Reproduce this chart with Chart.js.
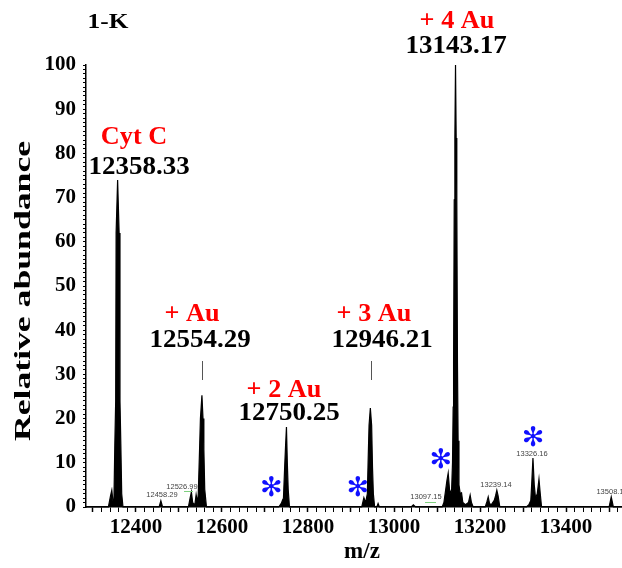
<!DOCTYPE html>
<html>
<head>
<meta charset="utf-8">
<script src="https://cdn.jsdelivr.net/npm/chart.js@4.4.1/dist/chart.umd.min.js"></script>
<style>
  html, body { margin: 0; padding: 0; background: #fff; }
  #wrap { width: 622px; height: 568px; }
</style>
</head>
<body>
<div id="wrap"><canvas id="spectrum" width="622" height="568"></canvas></div>
<script>
// m/z and relative abundance
const mzValues = [
  12284, 12336, 12341, 12344, 12347, 12349, 12351, 12353, 12354, 12357.5, 12361, 12363, 12365, 12367, 12370,
  12454, 12458, 12462,
  12522, 12526, 12529, 12532, 12537, 12540, 12543, 12545, 12548, 12550, 12553.5, 12556, 12558, 12560, 12564,
  12732, 12738, 12741, 12743, 12746, 12748, 12750, 12752, 12754, 12757,
  12925, 12930, 12934, 12938, 12940, 12942, 12945, 12948, 12950, 12952, 12955, 12960, 12963, 12966,
  13040, 13045, 13050,
  13112, 13116, 13120, 13123, 13126, 13129, 13132, 13134, 13136, 13137.5, 13138.5, 13140, 13141.5, 13143, 13144.5,
  13146, 13147.5, 13149, 13151, 13154, 13157, 13160, 13166, 13173, 13177, 13180, 13184,
  13212, 13216, 13219, 13222, 13226, 13233, 13236, 13239, 13242, 13246,
  13308, 13314, 13318, 13320, 13323, 13326, 13329, 13333, 13337, 13340, 13343,
  13500, 13505, 13510, 13530
];
const abundance = [
  0, 0, 2.5, 3.8, 1.0, 2.0, 14, 24, 62, 74, 62, 24, 14, 3, 0,
  0, 1.4, 0,
  0, 2, 3.4, 1, 0.5, 2.8, 1, 3, 13, 20, 25.3, 20, 13, 4, 0,
  0, 0.8, 1.6, 2, 9.5, 14, 18.1, 10, 4, 0,
  0, 2.1, 1, 3, 11, 18.5, 22.4, 18.5, 9, 3, 0, 0, 0.8, 0,
  0, 0.5, 0,
  0, 1, 3.8, 6, 7.7, 4, 3, 4, 10, 22.6, 32.6, 69.5, 83.5, 100, 83.5,
  69.5, 32.6, 15, 5, 3, 3.2, 1, 0.5, 1, 2.7, 1, 0,
  0, 1.2, 2.3, 0.8, 0.5, 1.5, 2.5, 3.8, 2.5, 0,
  0, 0.6, 1.5, 5, 11.1, 5, 2, 3, 6.3, 3, 0,
  0, 2.3, 0, 0
];

const xTickLabels = [12400, 12600, 12800, 13000, 13200, 13400];
const yTickLabels = [0, 10, 20, 30, 40, 50, 60, 70, 80, 90, 100];

// labelled peaks: red adduct name + black m/z
const peakNames = ["Cyt C", "+ Au", "+ 2 Au", "+ 3 Au", "+ 4 Au"];
const peakMasses = ["12358.33", "12554.29", "12750.25", "12946.21", "13143.17"];

// small instrument labels
const minorLabels = ["12458.29", "12526.99", "13097.15", "13239.14", "13326.16", "13508.1"];

// blue asterisks (m/z, abundance)
const starMz = [12715, 12916, 13109, 13323];
const starAbundance = [4.0, 4.0, 10.3, 15.5];

const serif = "'Liberation Serif', 'Times New Roman', serif";

// text drawn with a horizontal stretch, like the original figure
function stretchText(ctx, txt, x, y, font, color, sx) {
  ctx.save();
  ctx.font = font;
  ctx.fillStyle = color;
  ctx.textAlign = "center";
  ctx.textBaseline = "middle";
  ctx.translate(x, y);
  ctx.scale(sx, 1);
  ctx.fillText(txt, 0, 0);
  ctx.restore();
}

const annotationPlugin = {
  id: "annotations",
  afterDraw: (chart) => {
    const { ctx, scales } = chart;
    const big = "bold 25px " + serif;

    // title
    stretchText(ctx, "1-K", 108, 22, "bold 22px " + serif, "#000", 1.15);

    // y title, rotated and stretched
    ctx.save();
    ctx.translate(24, 291);
    ctx.rotate(-Math.PI / 2);
    ctx.scale(1.55, 1);
    ctx.font = "bold 23px " + serif;
    ctx.fillStyle = "#000";
    ctx.textAlign = "center";
    ctx.textBaseline = "middle";
    ctx.fillText("Relative abundance", 0, 0);
    ctx.restore();

    // x title
    stretchText(ctx, "m/z", 362, 552, "bold 23px " + serif, "#000", 1);

    // peak labels
    const namePos = [[134, 138], [192, 315], [284, 391], [374, 315], [457, 22]];
    const massPos = [[139, 168], [200, 341], [289, 414], [382, 341], [456, 47]];
    peakNames.forEach((name, i) => {
      stretchText(ctx, name, namePos[i][0], namePos[i][1], big, "#ff0000", 1.05);
      stretchText(ctx, peakMasses[i], massPos[i][0], massPos[i][1], big, "#000", 1.08);
    });

    // short leader lines above + Au and + 3 Au
    ctx.save();
    ctx.strokeStyle = "#555";
    ctx.lineWidth = 1;
    [12554, 12946].forEach((mz) => {
      const x = Math.round(scales.x.getPixelForValue(mz)) + 0.5;
      ctx.beginPath();
      ctx.moveTo(x, 361);
      ctx.lineTo(x, 380);
      ctx.stroke();
    });
    ctx.restore();

    // small grey labels
    const minorPos = [[162, 495], [182, 487], [426, 497], [496, 485], [532, 454], [610, 492]];
    ctx.save();
    ctx.font = "7.5px 'Liberation Sans', Arial, sans-serif";
    ctx.fillStyle = "#444";
    ctx.textBaseline = "middle";
    ctx.textAlign = "center";
    minorLabels.forEach((t, i) => ctx.fillText(t, minorPos[i][0], minorPos[i][1]));
    ctx.strokeStyle = "#7fd07f";
    ctx.lineWidth = 1;
    ctx.beginPath();
    ctx.moveTo(184, 491.5); ctx.lineTo(193, 491.5);
    ctx.moveTo(425, 502.5); ctx.lineTo(436, 502.5);
    ctx.stroke();
    ctx.restore();

    // asterisks
    ctx.save();
    ctx.font = "bold 27px 'DejaVu Sans', sans-serif";
    ctx.fillStyle = "#1010ff";
    ctx.textAlign = "center";
    ctx.textBaseline = "middle";
    starMz.forEach((mz, i) => {
      const x = scales.x.getPixelForValue(mz);
      const y = scales.y.getPixelForValue(starAbundance[i]);
      ctx.fillText("\u273B", x, y);
    });
    ctx.restore();
  },
};

const ctx = document.getElementById("spectrum").getContext("2d");

new Chart(ctx, {
  type: "line",
  data: {
    datasets: [
      {
        data: mzValues.map((mz, i) => ({ x: mz, y: abundance[i] })),
        borderColor: "#000",
        backgroundColor: "#000",
        borderWidth: 1.2,
        pointRadius: 0,
        tension: 0,
        fill: "origin",
        clip: false,
      },
    ],
  },
  options: {
    responsive: false,
    animation: false,
    layout: { padding: { top: 65, left: 0, right: 0, bottom: 0 } },
    plugins: {
      legend: { display: false },
      tooltip: { enabled: false },
    },
    scales: {
      x: {
        type: "linear",
        min: 12284,
        max: 13530,
        afterFit: (scale) => { scale.height = 61; },
        afterBuildTicks: (scale) => {
          const ticks = [];
          for (let v = 12300; v <= 13520; v += 20) ticks.push({ value: v });
          scale.ticks = ticks;
        },
        grid: {
          drawOnChartArea: false,
          drawTicks: true,
          tickLength: 5,
          color: "#000",
          tickWidth: (c) => (c.tick && c.tick.value % 100 === 0 ? 1.5 : 1),
        },
        border: { display: true, color: "#000", width: 1.5 },
        ticks: {
          autoSkip: false,
          maxRotation: 0,
          padding: 3,
          color: "#000",
          font: { family: serif, size: 21, weight: "bold" },
          callback: (v) => (xTickLabels.includes(v) ? String(v) : ""),
        },
      },
      y: {
        min: 0,
        max: 100,
        afterFit: (scale) => { scale.width = 86; },
        afterBuildTicks: (scale) => {
          const ticks = [];
          for (let v = 0; v <= 100; v += 1) ticks.push({ value: v });
          scale.ticks = ticks;
        },
        grid: {
          drawOnChartArea: false,
          drawTicks: true,
          tickLength: 3,
          color: "#000",
          tickWidth: 1,
        },
        border: { display: true, color: "#000", width: 1.5 },
        ticks: {
          autoSkip: false,
          padding: 7,
          color: "#000",
          font: { family: serif, size: 21, weight: "bold" },
          callback: (v) => (yTickLabels.includes(v) ? String(v) : ""),
        },
      },
    },
  },
  plugins: [annotationPlugin],
});
</script>
</body>
</html>
